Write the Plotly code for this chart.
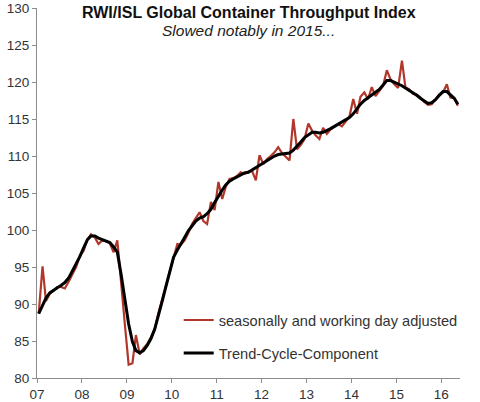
import pandas as pd
import plotly.graph_objects as go

start_month = "2007-01-01"
axis_end = "2016-06-01"

adjusted = [
    88.7, 95.1, 90.4, 91.4, 91.8, 92.3, 92.3, 92.1, 93.0, 94.0, 95.0, 96.5,
    97.2, 98.7, 99.4, 99.0, 98.1, 98.6, 98.5, 98.2, 97.0, 98.6, 93.3, 87.3,
    81.8, 82.0, 85.8, 83.2, 84.0, 84.6, 85.5, 86.6, 88.8, 90.6, 92.3, 94.4,
    96.0, 98.1, 98.0, 98.6, 99.6, 100.8, 101.6, 102.4, 101.2, 100.8, 103.8, 102.7,
    106.5, 104.2, 105.8, 106.9, 107.0, 107.3, 107.8, 107.6, 107.9, 108.0, 106.7, 110.1,
    108.9, 109.6, 110.0, 110.5, 111.2, 110.4, 109.9, 109.4, 115.0, 110.9, 111.5, 112.3,
    114.4, 113.4, 112.8, 112.3, 113.8, 113.0, 113.6, 114.0, 114.3, 114.0, 114.6, 115.3,
    117.7, 115.7, 118.0, 118.6, 117.7, 119.3, 118.1, 118.8, 119.5, 121.6, 120.3, 119.7,
    119.2, 122.9, 119.3, 119.0, 118.4, 118.3, 117.9, 117.3, 116.9, 117.0, 117.6, 118.3,
    118.6, 119.7, 117.9, 117.8, 116.8,
]

trend = [
    88.7, 89.8, 90.8, 91.5, 91.9, 92.2, 92.5, 92.9, 93.5, 94.4, 95.3, 96.4,
    97.6, 98.7, 99.2, 99.2, 98.9, 98.7, 98.6, 98.3, 97.7, 97.0, 94.0, 90.5,
    87.3, 84.9, 83.7, 83.4, 83.7, 84.4, 85.3, 86.6, 88.4, 90.4, 92.4, 94.4,
    96.3, 97.3, 98.2, 99.0, 99.9, 100.6, 101.2, 101.6, 101.8, 102.2, 102.8, 103.7,
    104.6, 105.4, 106.1, 106.6, 106.9, 107.2, 107.5, 107.7, 107.8, 108.1, 108.5, 108.8,
    109.1, 109.4, 109.7, 110.0, 110.2, 110.3, 110.3, 110.4, 110.8, 111.3, 111.9, 112.5,
    112.9, 113.2, 113.2, 113.1, 113.2, 113.4, 113.7, 114.0, 114.3, 114.5, 114.8, 115.2,
    115.7, 116.4, 117.0, 117.5, 117.9, 118.3, 118.6, 119.0, 119.6, 120.2, 120.2, 120.0,
    119.7, 119.5, 119.2, 118.9, 118.6, 118.2, 117.8, 117.4, 117.1, 117.2, 117.6, 118.2,
    118.7, 118.7, 118.3, 117.8, 117.0,
]

y_ticks = [80, 85, 90, 95, 100, 105, 110, 115, 120, 125, 130]

# monthly observations, plotted mid-month (category centred between yearly ticks)
months = pd.date_range(start_month, periods=len(adjusted), freq="MS") + pd.Timedelta(days=14)

FONT = "Liberation Sans, Arial, sans-serif"
TXT = "#333333"

fig = go.Figure()
fig.add_trace(go.Scatter(
    x=months, y=adjusted, mode="lines", name="seasonally and working day adjusted",
    line=dict(color="#b0372a", width=2.2), legendgroup="a",
))
fig.add_trace(go.Scatter(
    x=months, y=trend, mode="lines", name="Trend-Cycle-Component",
    line=dict(color="#000000", width=3), legendgroup="b",
))

fig.update_layout(
    width=480, height=402,
    margin=dict(l=37, r=20, t=8, b=24, autoexpand=False),
    paper_bgcolor="white", plot_bgcolor="white",
    font=dict(family=FONT, size=13, color=TXT),
    showlegend=True,
    legend=dict(
        x=0.335, y=0.20, xanchor="left", yanchor="top",
        font=dict(family=FONT, size=14.6, color=TXT),
        bgcolor="rgba(0,0,0,0)", tracegroupgap=11, itemwidth=30,
    ),
    annotations=[
        dict(text="<b>RWI/ISL Global Container Throughput Index</b>",
             xref="paper", yref="paper", x=0.501, y=0.989,
             xanchor="center", yanchor="middle", showarrow=False,
             font=dict(family=FONT, size=16, color="#111111")),
        dict(text="<i>Slowed notably in 2015...</i>",
             xref="paper", yref="paper", x=0.501, y=0.9405,
             xanchor="center", yanchor="middle", showarrow=False,
             font=dict(family=FONT, size=15.5, color="#222222")),
    ],
)

fig.update_xaxes(
    type="date", range=[start_month, axis_end], automargin=False,
    tick0=start_month, dtick="M12", tickformat="%y",
    showgrid=False, zeroline=False,
    showline=True, linecolor="#8c8c8c", linewidth=1,
    ticks="outside", ticklen=4, tickcolor="#8c8c8c",
    tickfont=dict(family=FONT, size=13.5, color=TXT),
)
fig.update_yaxes(
    range=[80, 130], tickvals=y_ticks, automargin=False,
    showgrid=False, zeroline=False,
    showline=True, linecolor="#8c8c8c", linewidth=1,
    ticks="outside", ticklen=4, tickcolor="#8c8c8c",
    tickfont=dict(family=FONT, size=13.5, color=TXT),
)

fig.write_html(
    "out.html",
    config={"displayModeBar": False},
    post_script="document.body.style.margin='0';",
)
